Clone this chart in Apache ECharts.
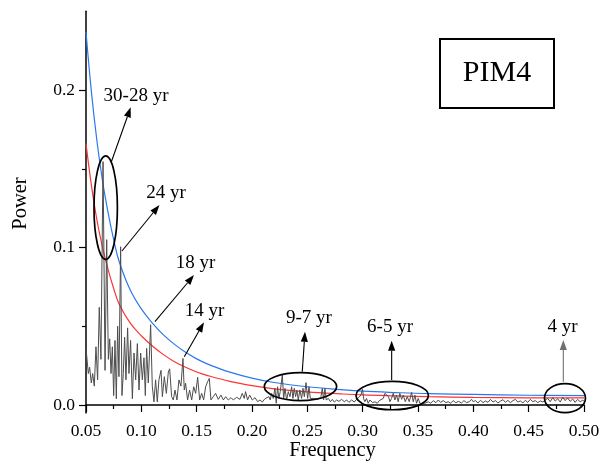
<!DOCTYPE html>
<html>
<head>
<meta charset="utf-8">
<script src="https://cdn.jsdelivr.net/npm/echarts@6/dist/echarts.min.js"></script>
<style>
  html, body { margin: 0; padding: 0; background: #fff; }
  #chart { width: 608px; height: 461px; }
</style>
</head>
<body>
<div id="chart"></div>
<script>
// Power spectrum of PIM4 (frequency vs power)
const specFreq = [
  0.0500, 0.0521, 0.0533, 0.0548, 0.0560, 0.0575, 0.0590, 0.0605, 0.0620, 0.0635,
  0.0654, 0.0672, 0.0687, 0.0702, 0.0714, 0.0726, 0.0738, 0.0750, 0.0762, 0.0774,
  0.0786, 0.0798, 0.0813, 0.0825, 0.0837, 0.0849, 0.0861, 0.0876, 0.0888, 0.0903,
  0.0919, 0.0934, 0.0949, 0.0964, 0.0979, 0.0994, 0.1009, 0.1024, 0.1036, 0.1048,
  0.1063, 0.1084, 0.1099, 0.1114, 0.1129, 0.1144, 0.1159,
  0.1178, 0.1190, 0.1208, 0.1226, 0.1244, 0.1256, 0.1274, 0.1289, 0.1304, 0.1322,
  0.1340, 0.1358, 0.1376, 0.1388, 0.1400, 0.1418, 0.1436, 0.1455, 0.1473, 0.1491,
  0.1509, 0.1527, 0.1545, 0.1563, 0.1581, 0.1599, 0.1614, 0.1629, 0.1650, 0.1671,
  0.1695, 0.1720, 0.1741, 0.1762, 0.1786, 0.1810, 0.1831, 0.1861, 0.1891, 0.1912,
  0.1930, 0.1942, 0.1960, 0.1979, 0.2003, 0.2027,
  0.2051, 0.2072, 0.2093, 0.2117, 0.2135, 0.2153, 0.2165, 0.2177, 0.2192, 0.2207,
  0.2219, 0.2231, 0.2243, 0.2255, 0.2274, 0.2286, 0.2298, 0.2313, 0.2328, 0.2343,
  0.2358, 0.2370, 0.2382, 0.2394, 0.2406, 0.2418, 0.2433, 0.2448, 0.2461, 0.2473,
  0.2488, 0.2503, 0.2515, 0.2527, 0.2539, 0.2557, 0.2575, 0.2599, 0.2623, 0.2635,
  0.2647, 0.2659, 0.2671, 0.2690, 0.2708, 0.2726, 0.2744, 0.2765, 0.2786, 0.2810,
  0.2834, 0.2855, 0.2876, 0.2900, 0.2924, 0.2945, 0.2966, 0.2984, 0.2999, 0.3009,
  0.3020, 0.3035, 0.3050, 0.3066, 0.3090, 0.3111, 0.3132, 0.3150, 0.3168, 0.3186,
  0.3201, 0.3216, 0.3234, 0.3246, 0.3261, 0.3276, 0.3291, 0.3306, 0.3321, 0.3336,
  0.3352, 0.3367, 0.3385, 0.3403, 0.3421, 0.3442, 0.3457, 0.3472, 0.3487, 0.3502,
  0.3517, 0.3535, 0.3562, 0.3593, 0.3614, 0.3638, 0.3662, 0.3683, 0.3704, 0.3728,
  0.3752, 0.3773, 0.3794, 0.3818, 0.3842, 0.3866, 0.3893, 0.3915, 0.3939, 0.3963,
  0.3984, 0.3999,
  0.4020, 0.4042, 0.4065, 0.4088, 0.4110, 0.4132, 0.4155, 0.4178, 0.4200, 0.4222,
  0.4245, 0.4268, 0.4290, 0.4312, 0.4335, 0.4358, 0.4380, 0.4402, 0.4425, 0.4448,
  0.4470, 0.4492, 0.4515, 0.4538, 0.4560, 0.4582, 0.4605, 0.4628, 0.4650, 0.4672,
  0.4695, 0.4718, 0.4740, 0.4762, 0.4785, 0.4808, 0.4830, 0.4852, 0.4875, 0.4898,
  0.4920, 0.4942, 0.4965, 0.4988, 0.5000
];
const specPower = [
  0.0360, 0.0200, 0.0240, 0.0140, 0.0200, 0.0120, 0.0370, 0.0160, 0.0620, 0.0290,
  0.1545, 0.0220, 0.1050, 0.0290, 0.0420, 0.0200, 0.0370, 0.0060, 0.0410, 0.0040,
  0.0500, 0.0180, 0.1005, 0.0060, 0.0200, 0.0430, 0.0160, 0.0490, 0.0200, 0.0410,
  0.0040, 0.0330, 0.0160, 0.0390, 0.0095, 0.0330, 0.0160, 0.0300, 0.0060, 0.0360,
  0.0140, 0.0510, 0.0120, 0.0020, 0.0160, 0.0020, 0.0160,
  0.0220, 0.0053, 0.0180, 0.0074, 0.0210, 0.0230, 0.0053, 0.0032, 0.0095, 0.0032,
  0.0159, 0.0120, 0.0296, 0.0095, 0.0138, 0.0032, 0.0095, 0.0032, 0.0116, 0.0074,
  0.0176, 0.0032, 0.0074, 0.0032, 0.0116, 0.0148, 0.0169, 0.0032, 0.0053, 0.0074,
  0.0036, 0.0063, 0.0032, 0.0053, 0.0032, 0.0047, 0.0032, 0.0049, 0.0036, 0.0074,
  0.0042, 0.0085, 0.0032, 0.0063, 0.0032, 0.0047,
  0.0021, 0.0032, 0.0019, 0.0040, 0.0028, 0.0053, 0.0032, 0.0074, 0.0042, 0.0106,
  0.0011, 0.0116, 0.0042, 0.0085, 0.0190, 0.0042, 0.0106, 0.0032, 0.0085, 0.0053,
  0.0116, 0.0042, 0.0106, 0.0053, 0.0095, 0.0032, 0.0095, 0.0042, 0.0106, 0.0053,
  0.0142, 0.0042, 0.0116, 0.0042, 0.0032, 0.0042, 0.0032, 0.0036, 0.0053, 0.0106,
  0.0032, 0.0106, 0.0032, 0.0042, 0.0021, 0.0036, 0.0019, 0.0032, 0.0023, 0.0036,
  0.0021, 0.0032, 0.0017, 0.0032, 0.0019, 0.0036, 0.0049, 0.0063, 0.0100, 0.0040,
  0.0021, 0.0042, 0.0011, 0.0032, 0.0015, 0.0021, 0.0011, 0.0028, 0.0021, 0.0042,
  0.0074, 0.0085, 0.0053, 0.0021, 0.0042, 0.0074, 0.0032, 0.0063, 0.0021, 0.0074,
  0.0036, 0.0063, 0.0021, 0.0053, 0.0021, 0.0080, 0.0021, 0.0063, 0.0011, 0.0042,
  0.0011, 0.0021, 0.0011, 0.0021, 0.0011, 0.0028, 0.0015, 0.0032, 0.0017, 0.0028,
  0.0015, 0.0021, 0.0011, 0.0028, 0.0015, 0.0023, 0.0013, 0.0028, 0.0015, 0.0021,
  0.0036, 0.0021,
  0.0028, 0.0013, 0.0030, 0.0015, 0.0026, 0.0017, 0.0036, 0.0019, 0.0028, 0.0013,
  0.0025, 0.0034, 0.0017, 0.0030, 0.0015, 0.0028, 0.0036, 0.0019, 0.0026, 0.0013,
  0.0030, 0.0017, 0.0036, 0.0021, 0.0028, 0.0015, 0.0026, 0.0019, 0.0032, 0.0042,
  0.0021, 0.0047, 0.0025, 0.0040, 0.0019, 0.0049, 0.0028, 0.0045, 0.0023, 0.0038,
  0.0017, 0.0036, 0.0021, 0.0030, 0.0025
];

// Red-noise background and confidence level
const levelFreq = [
  0.05, 0.055, 0.06, 0.065, 0.07, 0.075, 0.08, 0.09, 0.10, 0.11, 0.12, 0.13, 0.14,
  0.15, 0.16, 0.18, 0.20, 0.22, 0.25, 0.28, 0.30, 0.33, 0.36, 0.40, 0.45, 0.50
];
const redLevel = [
  0.166, 0.139, 0.117, 0.100, 0.086, 0.074, 0.064, 0.052, 0.044, 0.0375, 0.032, 0.0275, 0.024,
  0.021, 0.0187, 0.0150, 0.0123, 0.0103, 0.0084, 0.0071, 0.0064, 0.0058, 0.0053, 0.0049, 0.0046, 0.0045
];
const blueLevel = [
  0.237, 0.198, 0.167, 0.142, 0.122, 0.105, 0.091, 0.073, 0.061, 0.052, 0.0445, 0.0385, 0.0335,
  0.0293, 0.026, 0.0209, 0.0171, 0.0143, 0.0116, 0.0098, 0.0088, 0.0079, 0.0072, 0.0067, 0.0062, 0.0060
];

// Axis ticks
const yLabelValues = [0, 0.1, 0.2];
const yMinorTickValues = [0.05, 0.15];

// Period annotations (label, arrow from -> to, in frequency/power units)
const periodLabels = [
  { text: '30-28 yr', at: [0.0952, 0.1962] },
  { text: '24 yr',    at: [0.1223, 0.1346] },
  { text: '18 yr',    at: [0.1489, 0.0902] },
  { text: '14 yr',    at: [0.1571, 0.0597] },
  { text: '9-7 yr',   at: [0.2515, 0.0552] },
  { text: '6-5 yr',   at: [0.3247, 0.0495] },
  { text: '4 yr',     at: [0.4806, 0.0495] }
];
const periodArrows = [
  { from: [0.0730, 0.1546], to: [0.0904, 0.1890], color: '#000' },
  { from: [0.0825, 0.0978], to: [0.1164, 0.1270], color: '#000' },
  { from: [0.1123, 0.0529], to: [0.1476, 0.0825], color: '#000' },
  { from: [0.1388, 0.0307], to: [0.1566, 0.0525], color: '#000' },
  { from: [0.2454, 0.0211], to: [0.2479, 0.0465], color: '#000' },
  { from: [0.3262, 0.0159], to: [0.3262, 0.0408], color: '#000' },
  { from: [0.4813, 0.0148], to: [0.4813, 0.0413], color: '#707070' }
];
const periodRings = [
  { at: [0.0678, 0.1253], rx: 11.7, ry: 51.7 },
  { at: [0.2438, 0.0117], rx: 36.2, ry: 14 },
  { at: [0.3267, 0.0060], rx: 36.2, ry: 14.2 },
  { at: [0.4828, 0.0044], rx: 20.5, ry: 14.5 }
];

const FONT = '"Liberation Serif", "Times New Roman", serif';

const pair = (xs, ys) => xs.map((x, i) => [x, ys[i]]);

const chart = echarts.init(document.getElementById('chart'), null, { renderer: 'canvas' });

const option = {
  animation: false,
  backgroundColor: '#fff',
  grid: { left: 86, right: 24, top: 11.25, bottom: 48.1, containLabel: false },
  xAxis: {
    type: 'value',
    min: 0.05, max: 0.5, interval: 0.05,
    axisLine: { show: true, lineStyle: { color: '#000', width: 1.5 } },
    axisTick: { show: true, inside: false, length: 7, lineStyle: { color: '#000', width: 1.2 } },
    minorTick: { show: true, splitNumber: 2, length: 4, lineStyle: { color: '#000', width: 1.2 } },
    splitLine: { show: false },
    axisLabel: {
      margin: 10, color: '#000', fontFamily: FONT, fontSize: 17.5,
      formatter: v => v.toFixed(2)
    }
  },
  yAxis: [
    {
      type: 'value',
      min: -0.005, max: 0.25,
      axisLine: { show: true, onZero: false, lineStyle: { color: '#000', width: 1.5 } },
      axisTick: { show: true, inside: false, length: 7, customValues: yLabelValues,
                  lineStyle: { color: '#000', width: 1.2 } },
      splitLine: { show: false },
      axisLabel: {
        margin: 11, color: '#000', fontFamily: FONT, fontSize: 17.5,
        customValues: yLabelValues,
        formatter: v => v.toFixed(1)
      }
    },
    {
      type: 'value',
      min: -0.005, max: 0.25,
      position: 'left',
      axisLine: { show: false },
      axisTick: { show: true, inside: false, length: 4, customValues: yMinorTickValues,
                  lineStyle: { color: '#000', width: 1.2 } },
      splitLine: { show: false },
      axisLabel: { show: false }
    }
  ],
  series: [
    {
      name: 'confidence', type: 'line', smooth: 0.4, symbol: 'none',
      data: pair(levelFreq, blueLevel),
      lineStyle: { color: '#2a78f0', width: 1.2 }, z: 2
    },
    {
      name: 'red noise', type: 'line', smooth: 0.4, symbol: 'none',
      data: pair(levelFreq, redLevel),
      lineStyle: { color: '#ff3333', width: 1.2 }, z: 2
    },
    {
      name: 'spectrum', type: 'line', symbol: 'none',
      data: pair(specFreq, specPower),
      lineStyle: { color: '#4d4d4d', width: 1 }, z: 3
    }
  ]
};

chart.setOption(option);

const toPx = p => chart.convertToPixel({ xAxisIndex: 0, yAxisIndex: 0 }, p);

function arrowShapes(a) {
  const p0 = toPx(a.from), p1 = toPx(a.to);
  const dx = p1[0] - p0[0], dy = p1[1] - p0[1];
  const len = Math.hypot(dx, dy), ux = dx / len, uy = dy / len;
  const headLen = 10, headHalf = 3.6;
  const bx = p1[0] - ux * headLen, by = p1[1] - uy * headLen;
  return [
    { type: 'line', z: 50, silent: true,
      shape: { x1: p0[0], y1: p0[1], x2: bx, y2: by },
      style: { stroke: a.color, lineWidth: 1.1 } },
    { type: 'polygon', z: 50, silent: true,
      shape: { points: [[p1[0], p1[1]], [bx - uy * headHalf, by + ux * headHalf], [bx + uy * headHalf, by - ux * headHalf]] },
      style: { fill: a.color } }
  ];
}

const graphics = [];
periodRings.forEach(r => {
  const c = toPx(r.at);
  graphics.push({ type: 'ellipse', z: 50, silent: true,
    shape: { cx: c[0], cy: c[1], rx: r.rx, ry: r.ry },
    style: { fill: 'none', stroke: '#000', lineWidth: 1.7 } });
});
periodArrows.forEach(a => graphics.push(...arrowShapes(a)));
periodLabels.forEach(l => {
  const c = toPx(l.at);
  graphics.push({ type: 'text', z: 50, silent: true, x: c[0], y: c[1],
    style: { text: l.text, x: 0, y: 0, align: 'center', verticalAlign: 'middle',
             font: '19px ' + FONT, fill: '#000' } });
});

// Sample name box
graphics.push({ type: 'rect', z: 50, silent: true,
  shape: { x: 440, y: 39, width: 114, height: 69 },
  style: { fill: '#fff', stroke: '#000', lineWidth: 2 } });
graphics.push({ type: 'text', z: 51, silent: true, x: 497, y: 73.5,
  style: { text: 'PIM4', x: 0, y: 0, align: 'center', verticalAlign: 'middle',
           font: '30px ' + FONT, fill: '#000' } });

// Axis titles
graphics.push({ type: 'text', z: 50, silent: true, x: 332.5, y: 451,
  style: { text: 'Frequency', x: 0, y: 0, align: 'center', verticalAlign: 'middle',
           font: '20.5px ' + FONT, fill: '#000' } });
graphics.push({ type: 'text', z: 50, silent: true, x: 20.5, y: 203.5, rotation: Math.PI / 2,
  style: { text: 'Power', x: 0, y: 0, align: 'center', verticalAlign: 'middle',
           font: '20.5px ' + FONT, fill: '#000' } });

chart.setOption({ graphic: graphics });
</script>
</body>
</html>
